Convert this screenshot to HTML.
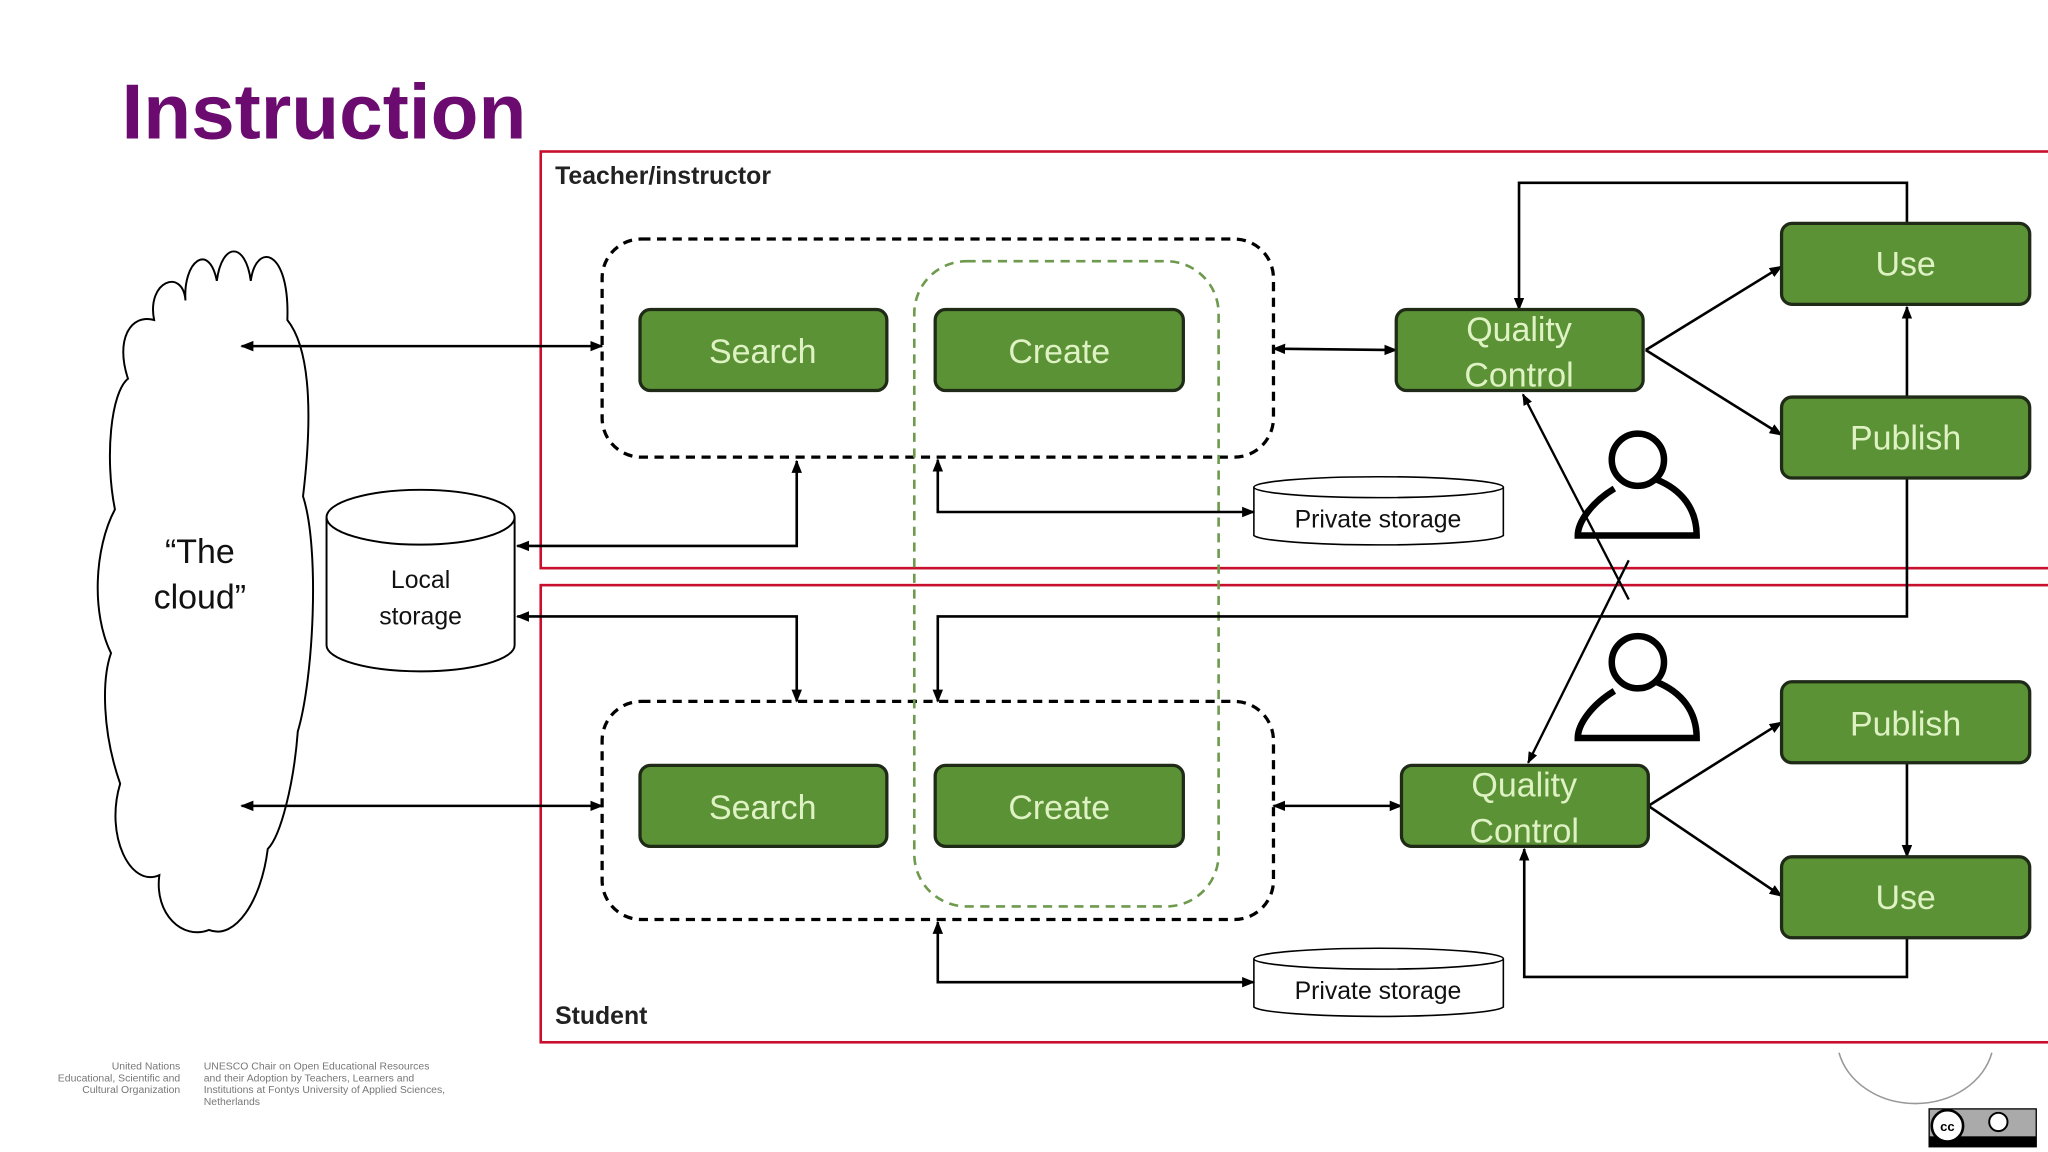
<!DOCTYPE html>
<html><head><meta charset="utf-8"><style>
html,body{margin:0;padding:0;background:#fff;}
svg{display:block;}
text{font-family:"Liberation Sans",sans-serif;}
</style></head><body>
<svg width="2048" height="1152" viewBox="0 0 1568 882" preserveAspectRatio="none" xmlns="http://www.w3.org/2000/svg">
<defs>
<marker id="a" viewBox="0 0 10 10" refX="9" refY="5" markerWidth="5" markerHeight="5" orient="auto-start-reverse"><path d="M0,1 L10,5 L0,9 z" fill="#000"/></marker>
</defs>
<rect width="1568" height="882" fill="#fff"/>
<text x="93" y="106" font-size="60" font-weight="bold" fill="#6b0a6f">Instruction</text>

<rect x="414" y="116" width="1160" height="319" fill="none" stroke="#c8102e" stroke-width="2"/>
<rect x="414" y="448" width="1160" height="350" fill="none" stroke="#c8102e" stroke-width="2"/>
<text x="425" y="141" font-size="19" font-weight="bold" fill="#222">Teacher/instructor</text>
<text x="425" y="784" font-size="19" font-weight="bold" fill="#222">Student</text>

<path d="M118,245 C112,215 140,205 142,230 C140,200 160,185 166,215 C170,185 188,185 192,215 C196,185 222,190 220,245 C240,270 238,330 232,380 C245,420 240,520 228,560 C225,600 215,640 205,650 C200,690 180,720 160,712 C140,720 118,700 122,670 C100,680 80,640 92,600 C78,560 78,520 85,500 C70,470 72,420 88,390 C80,350 85,300 98,290 C88,260 100,240 118,245 Z" fill="#fff" stroke="#000" stroke-width="1.5"/>
<text x="153" y="431" font-size="26" text-anchor="middle" fill="#111">“The</text>
<text x="153" y="466" font-size="26" text-anchor="middle" fill="#111">cloud”</text>

<path d="M250,396 L250,494 A72,20 0 0 0 394,494 L394,396" fill="#fff" stroke="#000" stroke-width="1.5"/>
<ellipse cx="322" cy="396" rx="72" ry="21" fill="#fff" stroke="#000" stroke-width="1.5"/>
<text x="322" y="450" font-size="19" text-anchor="middle" fill="#111">Local</text>
<text x="322" y="478" font-size="19" text-anchor="middle" fill="#111">storage</text>

<g stroke="#000" stroke-width="1.2" fill="#fff">
<path d="M960,373 L960,410 A96,8 0 0 0 1151,410 L1151,373"/>
<ellipse cx="1055.5" cy="373" rx="95.5" ry="8"/>
<path d="M960,734 L960,771 A96,8 0 0 0 1151,771 L1151,734"/>
<ellipse cx="1055.5" cy="734" rx="95.5" ry="8"/>
</g>
<text x="1055" y="404" font-size="19" text-anchor="middle" fill="#111">Private storage</text>
<text x="1055" y="765" font-size="19" text-anchor="middle" fill="#111">Private storage</text>

<rect x="461" y="183" width="514" height="167" rx="30" fill="none" stroke="#000" stroke-width="2.5" stroke-dasharray="7,5"/>
<rect x="461" y="537" width="514" height="167" rx="30" fill="none" stroke="#000" stroke-width="2.5" stroke-dasharray="7,5"/>
<rect x="700" y="200" width="233" height="494" rx="40" fill="none" stroke="#6e9a4e" stroke-width="2" stroke-dasharray="7,5"/>

<g stroke="#000" stroke-width="2" fill="none">
<line x1="185" y1="265" x2="461" y2="265" marker-start="url(#a)" marker-end="url(#a)"/>
<line x1="975" y1="267" x2="1069" y2="268" marker-start="url(#a)" marker-end="url(#a)"/>
<line x1="1260" y1="268" x2="1364" y2="204" marker-end="url(#a)"/>
<line x1="1260" y1="268" x2="1364" y2="333" marker-end="url(#a)"/>
<polyline points="1460,171 1460,140 1163,140 1163,237" marker-end="url(#a)"/>
<line x1="1460" y1="304" x2="1460" y2="235" marker-end="url(#a)"/>
<polyline points="1460,366 1460,472 718,472 718,537" marker-end="url(#a)"/>
<polyline points="610,353 610,418 396,418" marker-start="url(#a)" marker-end="url(#a)"/>
<polyline points="718,352 718,392 960,392" marker-start="url(#a)" marker-end="url(#a)"/>
<polyline points="396,472 610,472 610,537" marker-start="url(#a)" marker-end="url(#a)"/>
<line x1="185" y1="617" x2="461" y2="617" marker-start="url(#a)" marker-end="url(#a)"/>
<line x1="975" y1="617" x2="1073" y2="617" marker-start="url(#a)" marker-end="url(#a)"/>
<line x1="1262" y1="617" x2="1364" y2="553" marker-end="url(#a)"/>
<line x1="1262" y1="617" x2="1364" y2="686" marker-end="url(#a)"/>
<line x1="1460" y1="584" x2="1460" y2="656" marker-end="url(#a)"/>
<polyline points="1460,718 1460,748 1167,748 1167,650" marker-end="url(#a)"/>
<polyline points="718,706 718,752 960,752" marker-start="url(#a)" marker-end="url(#a)"/>
<line x1="1247" y1="459" x2="1166" y2="302" stroke-width="1.8" marker-end="url(#a)"/>
<line x1="1247" y1="429" x2="1170" y2="584" stroke-width="1.8" marker-end="url(#a)"/>
</g>

<g stroke="#000" stroke-width="5" fill="none">
<circle cx="1254" cy="352" r="20"/>
<path d="M1236,374 C1218,385 1208,400 1208,410 L1299,410 C1299,390 1288,375 1268,367"/>
<circle cx="1254" cy="507" r="20"/>
<path d="M1236,529 C1218,540 1208,555 1208,565 L1299,565 C1299,545 1288,530 1268,522"/>
</g>

<g fill="#5b9236" stroke="#1f2a17" stroke-width="2.5">
<rect x="490" y="237" width="189" height="62" rx="8"/>
<rect x="716" y="237" width="190" height="62" rx="8"/>
<rect x="1069" y="237" width="189" height="62" rx="8"/>
<rect x="1364" y="171" width="190" height="62" rx="8"/>
<rect x="1364" y="304" width="190" height="62" rx="8"/>
<rect x="490" y="586" width="189" height="62" rx="8"/>
<rect x="716" y="586" width="190" height="62" rx="8"/>
<rect x="1073" y="586" width="189" height="62" rx="8"/>
<rect x="1364" y="522" width="190" height="62" rx="8"/>
<rect x="1364" y="656" width="190" height="62" rx="8"/>
</g>
<g fill="#dff2c4" font-size="26" text-anchor="middle">
<text x="584" y="278">Search</text>
<text x="811" y="278">Create</text>
<text x="1163" y="261">Quality</text>
<text x="1163" y="296">Control</text>
<text x="1459" y="211">Use</text>
<text x="1459" y="344">Publish</text>
<text x="584" y="627">Search</text>
<text x="811" y="627">Create</text>
<text x="1167" y="610">Quality</text>
<text x="1167" y="645">Control</text>
<text x="1459" y="563">Publish</text>
<text x="1459" y="696">Use</text>
</g>

<g fill="#777" font-size="8">
<text x="138" y="819" text-anchor="end">United Nations</text>
<text x="138" y="828" text-anchor="end">Educational, Scientific and</text>
<text x="138" y="837" text-anchor="end">Cultural Organization</text>
<text x="156" y="819">UNESCO Chair on Open Educational Resources</text>
<text x="156" y="828">and their Adoption by Teachers, Learners and</text>
<text x="156" y="837">Institutions at Fontys University of Applied Sciences,</text>
<text x="156" y="846">Netherlands</text>
</g>
<path d="M1408,806 A60,50 0 0 0 1525,806" fill="none" stroke="#999" stroke-width="1.2"/>
<rect x="1477" y="849" width="82" height="29" fill="#aaa" stroke="#000"/>
<rect x="1477" y="870" width="82" height="8" fill="#000"/>
<circle cx="1491" cy="862" r="12" fill="#fff" stroke="#000" stroke-width="2"/>
<text x="1491" y="866" font-size="10" font-weight="bold" text-anchor="middle">cc</text>
<circle cx="1530" cy="859" r="7" fill="#fff" stroke="#000" stroke-width="1.5"/>
</svg>
</body></html>
